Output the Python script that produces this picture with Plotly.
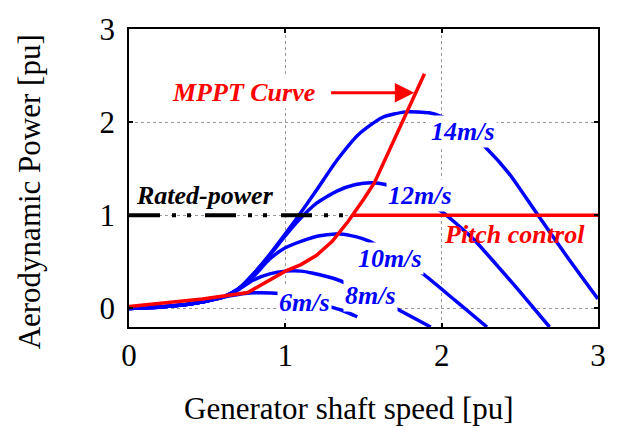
import plotly.graph_objects as go

# ---- data ----
x_14 = [0, 0.2, 0.4, 0.5, 0.6, 0.7, 0.8, 0.9, 1.0, 1.07, 1.2, 1.33, 1.47, 1.62, 1.77, 1.92, 2.0, 2.1, 2.2, 2.28, 2.43, 2.6, 2.8, 3.0]
y_14 = [0, 0.015, 0.05, 0.08, 0.12, 0.21, 0.38, 0.58, 0.80, 0.96, 1.27, 1.59, 1.87, 2.05, 2.11, 2.10, 2.06, 1.97, 1.85, 1.73, 1.45, 1.04, 0.56, 0.10]

x_12 = [0, 0.2, 0.4, 0.5, 0.6, 0.7, 0.8, 0.9, 1.0, 1.07, 1.2, 1.33, 1.45, 1.55, 1.64, 1.8, 2.0, 2.1, 2.2, 2.35, 2.5, 2.69]
y_12 = [0, 0.015, 0.05, 0.08, 0.12, 0.21, 0.37, 0.57, 0.78, 0.92, 1.13, 1.26, 1.33, 1.35, 1.33, 1.22, 1.04, 0.90, 0.75, 0.47, 0.18, -0.2]

x_10 = [0, 0.2, 0.4, 0.5, 0.6, 0.7, 0.8, 0.9, 1.0, 1.1, 1.22, 1.35, 1.45, 1.54, 1.7, 1.88, 2.09, 2.29]
y_10 = [0, 0.015, 0.05, 0.08, 0.12, 0.21, 0.35, 0.53, 0.65, 0.72, 0.78, 0.80, 0.77, 0.72, 0.56, 0.37, 0.08, -0.2]

x_8 = [0, 0.2, 0.4, 0.5, 0.6, 0.7, 0.79, 0.9, 1.0, 1.1, 1.17, 1.33, 1.5, 1.73, 1.93]
y_8 = [0, 0.015, 0.05, 0.08, 0.12, 0.2, 0.3, 0.37, 0.40, 0.40, 0.38, 0.31, 0.18, -0.02, -0.2]

x_6 = [0, 0.2, 0.4, 0.5, 0.6, 0.7, 0.77, 0.91, 1.0, 1.1, 1.2, 1.3, 1.36, 1.46]
y_6 = [0, 0.015, 0.05, 0.08, 0.12, 0.15, 0.165, 0.165, 0.15, 0.11, 0.06, 0.01, -0.02, -0.09]

x_mppt = [0, 0.47, 0.76, 1.0, 1.1, 1.2, 1.3, 1.4, 1.5, 1.57, 1.89]
y_mppt = [0.02, 0.1, 0.17, 0.40, 0.47, 0.57, 0.72, 0.93, 1.17, 1.35, 2.52]

x_pitch = [1.43, 3.0]
y_pitch = [1.0, 1.0]

x_rated = [0, 1.43]
y_rated = [1.0, 1.0]

speed_labels = ["14m/s", "12m/s", "10m/s", "8m/s", "6m/s"]
label_x = [2.135, 1.86, 1.672, 1.544, 1.123]
label_y = [1.895, 1.21, 0.532, 0.137, 0.058]

tick_vals = [0, 1, 2, 3]

FONT = "Liberation Serif, Times New Roman, serif"
BLUE = "#0000FF"
RED = "#FF0000"

fig = go.Figure()
for xs, ys in [(x_14, y_14), (x_12, y_12), (x_10, y_10), (x_8, y_8), (x_6, y_6)]:
    fig.add_trace(go.Scatter(x=xs, y=ys, mode="lines",
                             line=dict(color=BLUE, width=3.5, shape="spline", smoothing=0.6),
                             showlegend=False))

fig.add_trace(go.Scatter(x=x_rated, y=y_rated, mode="lines",
                         line=dict(color="black", width=4,
                                   dash="31px,12px,4px,11px,4px,14px"),
                         showlegend=False))
fig.add_trace(go.Scatter(x=x_pitch, y=y_pitch, mode="lines",
                         line=dict(color=RED, width=3.5), showlegend=False))
fig.add_trace(go.Scatter(x=x_mppt, y=y_mppt, mode="lines",
                         line=dict(color=RED, width=3.5), showlegend=False))

lab_font = dict(family=FONT, size=26)
for t, lx, ly in zip(speed_labels, label_x, label_y):
    fig.add_annotation(x=lx, y=ly, text="<b><i>%s</i></b>" % t, showarrow=False,
                       font=dict(lab_font, color=BLUE), bgcolor="white",
                       borderpad=1, xanchor="center", yanchor="middle")

fig.add_annotation(x=0.731, y=2.316, text="<b><i>MPPT Curve</i></b>", showarrow=False,
                   font=dict(lab_font, color=RED), bgcolor="white", borderpad=1)
fig.add_annotation(x=2.463, y=0.795, text="<b><i>Pitch control</i></b>", showarrow=False,
                   font=dict(lab_font, color=RED))
fig.add_annotation(x=0.488, y=1.21, text="<b><i>Rated-power</i></b>", showarrow=False,
                   font=dict(lab_font, color="black"))
# arrow
fig.add_annotation(x=1.825, y=2.316, ax=1.283, ay=2.316, axref="x", ayref="y",
                   xref="x", yref="y", text="", showarrow=True,
                   arrowhead=2, arrowsize=1.3, arrowwidth=3, arrowcolor=RED,
                   standoff=0, startstandoff=0)

# axis titles
fig.add_annotation(xref="paper", yref="paper", x=0.470, y=-0.272,
                   text="Generator shaft speed [pu]", showarrow=False,
                   font=dict(family=FONT, size=31, color="black"),
                   xanchor="center", yanchor="middle")
fig.add_annotation(xref="paper", yref="paper", x=-0.2128, y=0.4525,
                   text="Aerodynamic Power [pu]", showarrow=False, textangle=-90,
                   font=dict(family=FONT, size=31, color="black"),
                   xanchor="center", yanchor="middle")

axis_common = dict(showline=True, linecolor="black", linewidth=1.5, mirror="ticks",
                   ticks="inside", ticklen=4, tickwidth=1.5, tickcolor="black",
                   showgrid=True, gridcolor="#9a9a9a", griddash="dot", gridwidth=1,
                   zeroline=False, tickvals=tick_vals,
                   tickfont=dict(family=FONT, size=31, color="black"))

fig.update_xaxes(range=[0, 3], **axis_common)
fig.update_yaxes(range=[-0.2, 3], ticklabelstandoff=6, **axis_common)

fig.update_layout(width=618, height=428, margin=dict(l=129, r=19, t=22, b=101),
                  plot_bgcolor="white", paper_bgcolor="white", showlegend=False)

fig.write_html("out.html")
